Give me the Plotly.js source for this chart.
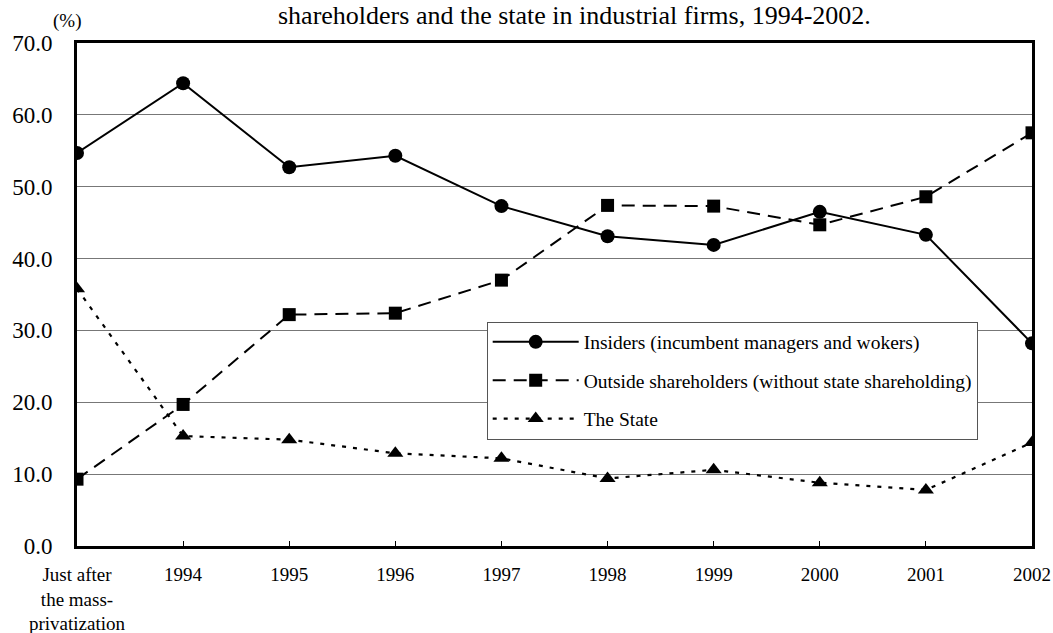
<!DOCTYPE html>
<html>
<head>
<meta charset="utf-8">
<script src="https://cdn.plot.ly/plotly-3.0.1.min.js"></script>
<style>html,body{margin:0;padding:0;background:#fff;}#chart{width:1053px;height:633px;}</style>
</head>
<body>
<div id="chart"></div>
<script>
const categories = ["Just after<br>the mass-<br>privatization", "1994", "1995", "1996", "1997", "1998", "1999", "2000", "2001", "2002"];
const insiders = [54.7, 64.4, 52.7, 54.3, 47.3, 43.1, 41.9, 46.5, 43.3, 28.2];
const outsiders = [9.3, 19.7, 32.2, 32.4, 37.0, 47.4, 47.3, 44.7, 48.6, 57.5];
const state = [35.8, 15.3, 14.8, 12.9, 12.2, 9.4, 10.6, 8.8, 7.8, 14.4];
const seriesNames = ["Insiders (incumbent managers and wokers)", "Outside shareholders (without state shareholding)", "The State"];
const titleText = "shareholders and the state in industrial firms, 1994-2002.";

const FONT = "Times New Roman, Liberation Serif, serif";

const traces = [
  {x: categories, y: insiders, name: seriesNames[0], type: "scatter", mode: "lines+markers",
   line: {color: "#000", width: 2, dash: "solid"}, marker: {symbol: "circle", size: 14, color: "#000"}, legendgroup: "a"},
  {x: categories, y: outsiders, name: seriesNames[1], type: "scatter", mode: "lines+markers",
   line: {color: "#000", width: 2, dash: "13px,8px"}, marker: {symbol: "square", size: 13, color: "#000"}, legendgroup: "b"},
  {x: categories, y: state, name: seriesNames[2], type: "scatter", mode: "lines+markers",
   line: {color: "#000", width: 2.2, dash: "4px,7px"}, marker: {symbol: "triangle-up", size: 14, color: "#000"}, legendgroup: "c"}
];

const layout = {
  width: 1053, height: 633,
  margin: {l: 77, r: 21, t: 43, b: 87, pad: 0},
  paper_bgcolor: "#fff", plot_bgcolor: "#fff",
  font: {family: FONT, color: "#000", size: 19},
  showlegend: true,
  legend: {
    x: 0.429, y: 0.446, xanchor: "left", yanchor: "top",
    bgcolor: "#fff", bordercolor: "#555", borderwidth: 1,
    font: {family: FONT, size: 19.5, color: "#000"},
    traceorder: "grouped", tracegroupgap: 10, itemwidth: 86
  },
  xaxis: {
    type: "category", range: [0, 9],
    showline: true, linecolor: "#000", linewidth: 3, mirror: true,
    showgrid: false, zeroline: false,
    ticks: "inside", ticklen: 5, tickcolor: "#000", tickwidth: 1,
    ticklabelstandoff: 9,
    tickfont: {family: FONT, size: 19, color: "#000"}
  },
  yaxis: {
    range: [0, 70], dtick: 10, tick0: 0, tickformat: ".1f",
    showline: true, linecolor: "#000", linewidth: 3, mirror: true,
    showgrid: true, gridcolor: "#777", gridwidth: 1, zeroline: false,
    ticks: "", ticklabelstandoff: 17,
    tickfont: {family: FONT, size: 23, color: "#000"}
  },
  annotations: [
    {text: "(%)", xref: "paper", yref: "paper", x: -0.0105, y: 1.0, xanchor: "center", yanchor: "bottom", yshift: 9,
     showarrow: false, font: {family: FONT, size: 19, color: "#000"}},
    {text: titleText, xref: "paper", yref: "paper", x: 0.521, y: 1, xanchor: "center", yanchor: "top", yshift: 44,
     showarrow: false, font: {family: FONT, size: 26, color: "#000"}}
  ]
};

Plotly.newPlot("chart", traces, layout, {displayModeBar: false, staticPlot: true});
</script>
</body>
</html>
